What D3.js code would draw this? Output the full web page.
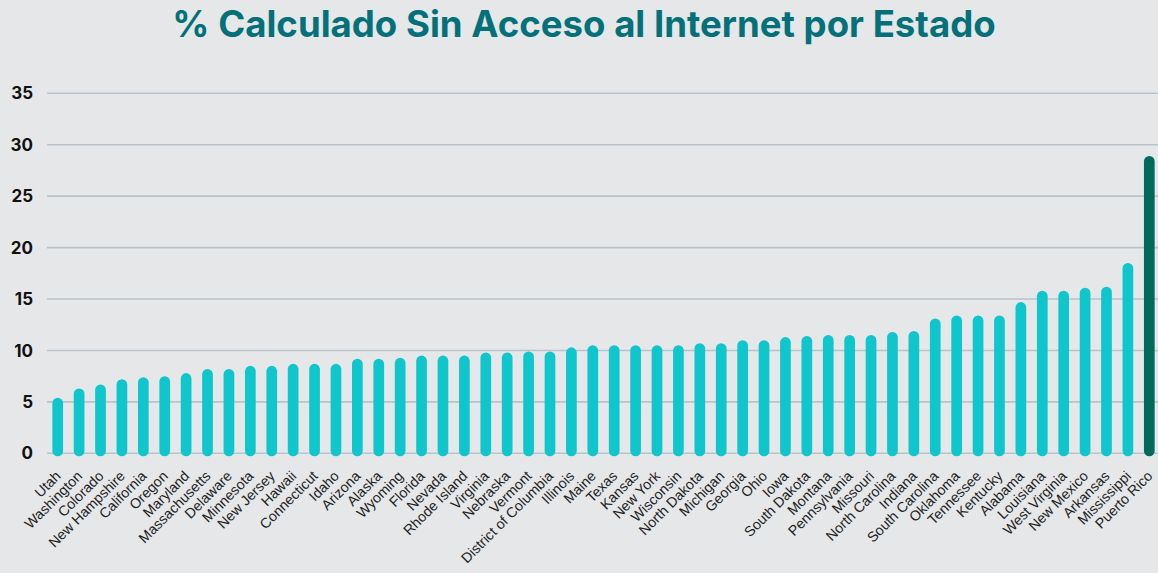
<!DOCTYPE html>
<html>
<head>
<meta charset="utf-8">
<script src="https://cdn.jsdelivr.net/npm/d3@7"></script>
<style>
  html, body { margin: 0; padding: 0; background: #e5e7e9; }
  svg { display: block; }
  .grid line { stroke: #bac3c9; stroke-width: 1.6; }
  .y-label { font-family: Inter, "DejaVu Sans", sans-serif; font-weight: 700; font-size: 17px; fill: #111; }
  .x-label { font-family: "Liberation Sans", Arial, sans-serif; font-size: 14.2px; fill: #222; }
  .title { font-family: Inter, "DejaVu Sans", sans-serif; font-weight: 700; font-size: 36.6px; fill: #04707a; }
</style>
</head>
<body>
<svg id="chart"></svg>
<script>
// states, sorted from lowest to highest share
const states = [
  'Utah', 'Washington', 'Colorado', 'New Hampshire', 'California', 'Oregon', 'Maryland',
  'Massachusetts', 'Delaware', 'Minnesota', 'New Jersey', 'Hawaii', 'Connecticut', 'Idaho',
  'Arizona', 'Alaska', 'Wyoming', 'Florida', 'Nevada', 'Rhode Island', 'Virginia', 'Nebraska',
  'Vermont', 'District of Columbia', 'Illinois', 'Maine', 'Texas', 'Kansas', 'New York',
  'Wisconsin', 'North Dakota', 'Michigan', 'Georgia', 'Ohio', 'Iowa', 'South Dakota', 'Montana',
  'Pennsylvania', 'Missouri', 'North Carolina', 'Indiana', 'South Carolina', 'Oklahoma',
  'Tennessee', 'Kentucky', 'Alabama', 'Louisiana', 'West Virginia', 'New Mexico', 'Arkansas',
  'Mississippi', 'Puerto Rico'
];

// % without internet access
const values = [
  5.4, 6.3, 6.7, 7.2, 7.4, 7.5, 7.8,
  8.2, 8.2, 8.5, 8.5, 8.7, 8.7, 8.7,
  9.2, 9.2, 9.3, 9.5, 9.5, 9.5, 9.8, 9.8,
  9.9, 9.9, 10.3, 10.5, 10.5, 10.5, 10.5,
  10.5, 10.7, 10.7, 11.0, 11.0, 11.3, 11.4, 11.5,
  11.5, 11.5, 11.8, 11.9, 13.1, 13.4,
  13.4, 13.4, 14.7, 15.8, 15.8, 16.1, 16.2,
  18.5, 28.9
];

const yTicks = [0, 5, 10, 15, 20, 25, 30, 35];
const highlight = 'Puerto Rico';

const width = 1158, height = 573;
const data = states.map((s, i) => ({ state: s, value: values[i] }));

const svg = d3.select('#chart')
  .attr('width', width)
  .attr('height', height);

const x = d3.scaleBand()
  .domain(states)
  .range([47, 1160])
  .paddingInner(0.5)
  .paddingOuter(0.25);

const y = d3.scaleLinear()
  .domain([0, 35])
  .range([453.3, 93.3]);

// Title
svg.append('text')
  .attr('class', 'title')
  .attr('x', 584)
  .attr('y', 37)
  .attr('text-anchor', 'middle')
  .text('% Calculado Sin Acceso al Internet por Estado');

// Gridlines
svg.append('g')
  .attr('class', 'grid')
  .selectAll('line')
  .data(yTicks)
  .join('line')
  .attr('x1', 47)
  .attr('x2', width)
  .attr('y1', d => y(d))
  .attr('y2', d => y(d));

// Y labels
svg.append('g')
  .selectAll('text')
  .data(yTicks)
  .join('text')
  .attr('class', 'y-label')
  .attr('x', 33)
  .attr('y', d => y(d))
  .attr('dy', '0.36em')
  .attr('text-anchor', 'end')
  .text(d => d);

// Bars (rounded, slightly past the zero line)
const bw = x.bandwidth();
svg.append('g')
  .selectAll('rect')
  .data(data)
  .join('rect')
  .attr('x', d => x(d.state))
  .attr('width', bw)
  .attr('y', d => y(d.value))
  .attr('height', d => y(0) - y(d.value) + 3)
  .attr('rx', bw / 2)
  .attr('fill', d => d.state === highlight ? '#006b5c' : '#0fc6cc');

// X labels, rotated
svg.append('g')
  .selectAll('text')
  .data(data)
  .join('text')
  .attr('class', 'x-label')
  .attr('text-anchor', 'end')
  .attr('transform', d => `translate(${x(d.state) + bw / 2 + 4},${477}) rotate(-45)`)
  .text(d => d.state);
</script>
</body>
</html>
